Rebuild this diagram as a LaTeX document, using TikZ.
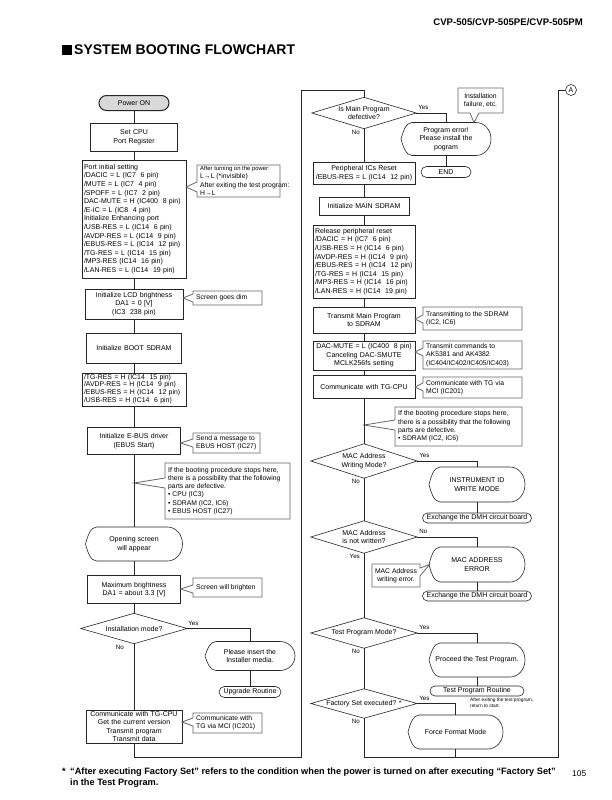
\documentclass[tikz,border=0pt]{standalone}
\usepackage{fontspec}
\setmainfont{Liberation Sans}
\usetikzlibrary{shapes.misc,calc}
\newcommand{\FsBox}{\fontsize{7}{8.6}\selectfont}
\newcommand{\FsCall}{\fontsize{6.8}{8.3}\selectfont}
\newcommand{\FsLab}{\fontsize{6.2}{7}\selectfont}
\tikzset{
  ln/.style={line width=0.55pt, draw=black!85},
  pbox/.style={draw=black!85, line width=0.6pt, rectangle, inner xsep=2pt, inner ysep=0pt, font=\FsBox},
  term/.style={draw=black!85, line width=0.6pt, rounded rectangle, inner xsep=1pt, inner ysep=0pt, font=\FsBox},
  txtnode/.style={inner sep=0pt, font=\FsBox, align=center},
  shp/.style={draw=black!85, line width=0.6pt},
  cl/.style={draw=black!60, line width=0.8pt},
  ctext/.style={inner xsep=2.5pt, inner ysep=0pt, font=\FsCall, align=left},
  lab/.style={font=\FsLab, inner sep=0pt},
}
\newcommand{\BoxN}[7]{%
  \pgfmathsetmacro\TmpW{#4-4}%
  \node[pbox, text width=\TmpW pt, minimum height=#5pt, align=#6] (#1) at (#2,#3) {#7};}
\newcommand{\DiaN}[6]{%
  \node[txtnode, minimum width=#4pt, minimum height=#5pt] (#1) at (#2,#3) {#6};
  \draw[shp] (#1.west) -- (#1.north) -- (#1.east) -- (#1.south) -- cycle;}
\newcommand{\TermN}[6]{%
  \node[term, minimum width=#4pt, minimum height=#5pt] (#1) at (#2,#3) {#6};}
\newcommand{\DispN}[6]{%
  \node[txtnode, minimum width=#4pt, minimum height=#5pt] (#1) at (#2,#3) {#6};
  \pgfmathsetmacro\Xl{#2-#4/2}\pgfmathsetmacro\Xr{#2+#4/2}%
  \pgfmathsetmacro\Yt{#3-#5/2}\pgfmathsetmacro\Yb{#3+#5/2}%
  \pgfmathsetmacro\Ry{#5/2}%
  \pgfmathsetmacro\Xa{\Xl+11}\pgfmathsetmacro\Xb{\Xr-15}%
  \draw[shp] (\Xa,\Yt) -- (\Xb,\Yt)
    .. controls ({\Xb+8.3},\Yt) and (\Xr,{#3-0.552*\Ry}) .. (\Xr,#3)
    .. controls (\Xr,{#3+0.552*\Ry}) and ({\Xb+8.3},\Yb) .. (\Xb,\Yb)
    -- (\Xa,\Yb)
    .. controls ({\Xa-6},\Yb) and ({\Xl+2},{#3+0.45*\Ry}) .. (\Xl,#3)
    .. controls ({\Xl+2},{#3-0.45*\Ry}) and ({\Xa-6},\Yt) .. (\Xa,\Yt) -- cycle;}
\newcommand{\CallL}[9]{%
  \node[ctext, anchor=west] (#1) at ({#2+0.5},{(#3+#5)/2}) {#9};
  \draw[cl] (#2,#3) -- (#4,#3) -- (#4,#5) -- (#2,#5) -- (#2,{#7+#8}) -- (#6,#7) -- (#2,{#7-#8}) -- cycle;}
\begin{document}
\begin{tikzpicture}[x=1pt,y=-1pt]
\fill[white] (0,0) rectangle (611,800);
\useasboundingbox (0,0) rectangle (611,800);
% header and title
\node[anchor=base east, inner sep=0pt, font=\fontsize{9.6}{11}\selectfont\bfseries] (hdr) at (583,26) {CVP-505/CVP-505PE/CVP-505PM};
\fill (62,45) rectangle (71.5,55);
\node[anchor=base west, inner sep=0pt, font=\fontsize{14}{16}\selectfont\bfseries] (title) at (74,55) {SYSTEM BOOTING FLOWCHART};
% ---------------- left column ----------------
\node[term, fill=gray!30, line width=1pt, minimum width=72pt, minimum height=15pt] (power) at (134,103) {Power ON};
\BoxN{setcpu}{134}{137}{87}{28}{center}{Set CPU\\Port Register}
\BoxN{portinit}{134}{219}{104}{118}{left}{Port initial setting\\/DACIC = L (IC7~~6 pin)\\/MUTE = L (IC7~~4 pin)\\/SPOFF = L (IC7~~2 pin)\\DAC-MUTE = H (IC400~~8 pin)\\/E-IC = L (IC8~~4 pin)\\Initialize Enhancing port\\/USB-RES = L (IC14~~6 pin)\\/AVDP-RES = L (IC14~~9 pin)\\/EBUS-RES = L (IC14~~12 pin)\\/TG-RES = L (IC14~~15 pin)\\/MP3-RES (IC14~~16 pin)\\/LAN-RES = L (IC14~~19 pin)}
\BoxN{lcd}{134}{304}{98}{30}{center}{Initialize LCD brightness\\DA1 = 0 [V]\\(IC3~~238 pin)}
\BoxN{bootsd}{134}{348}{95}{30}{center}{Initialize BOOT SDRAM}
\BoxN{tgres}{134}{389.5}{104}{33}{left}{\fontsize{6.9}{7.4}\selectfont /TG-RES = H (IC14~~15 pin)\\/AVDP-RES = H (IC14~~9 pin)\\/EBUS-RES = H (IC14~~12 pin)\\/USB-RES = H (IC14~~6 pin)}
\BoxN{ebus}{134}{441}{93}{27}{center}{Initialize E-BUS driver\\(EBUS Start)}
\DispN{opening}{134}{544}{97}{34}{Opening screen\\will appear}
\BoxN{maxb}{134}{589.5}{93}{28}{center}{Maximum brightness\\DA1 = about 3.3 [V]}
\DiaN{instmode}{134}{628.5}{106}{30}{Installation mode?}
\DispN{please}{250}{656}{90}{29}{Please insert the\\Installer media.}
\TermN{upgrade}{250}{692}{64}{11}{Upgrade Routine}
\BoxN{commtg}{134}{726.5}{96}{33}{center}{Communicate with TG-CPU\\Get the current version\\Transmit program\\Transmit data}
% left callouts
\CallL{c1}{197}{165}{280}{197}{186}{187}{5}{\fontsize{5.9}{7.2}\selectfont After turning on the power:\\L→L (*invisible)\\After exiting the test program:\\H→L}
\CallL{c2}{193}{291}{262}{305}{183}{298}{4}{Screen goes dim}
\CallL{c3}{193}{433}{260}{453}{180.5}{443}{4}{Send a message to\\EBUS HOST (IC27)}
\CallL{c4}{165}{463}{290}{519}{134}{483}{5}{\fontsize{7}{8.4}\selectfont If the booting procedure stops here,\\there is a possibility that the following\\parts are defective.\\• CPU (IC3)\\• SDRAM (IC2, IC6)\\• EBUS HOST (IC27)}
\CallL{c5}{193}{578}{262}{597}{180.5}{589}{4}{Screen will brighten}
\CallL{c6}{193}{713}{262}{733}{182}{722}{4}{Communicate with\\TG via MCI (IC201)}
% left connectors
\draw[ln] (power.south) -- (setcpu.north);
\draw[ln] (setcpu.south) -- (portinit.north);
\draw[ln] (portinit.south) -- (lcd.north);
\draw[ln] (lcd.south) -- (bootsd.north);
\draw[ln] (bootsd.south) -- (tgres.north);
\draw[ln] (tgres.south) -- (ebus.north);
\draw[ln] (ebus.south) -- (opening.north);
\draw[ln] (opening.south) -- (maxb.north);
\draw[ln] (maxb.south) -- (instmode.north);
\draw[ln] (instmode.east) -| (please.north);
\draw[ln] (please.south) -- (upgrade.north);
\draw[ln] (instmode.south) -- (commtg.north);
\node[lab, anchor=south west] (y1) at ($(instmode.east)+(1,-3)$) {Yes};
\node[lab, anchor=north east] (n1) at ($(instmode.south)+(-10,1)$) {No};
\coordinate (lb) at (134,757);
\coordinate (lr) at (301,757);
\coordinate (lt) at (301,90);
\coordinate (rt) at (364,90);
% ---------------- right column ----------------
\DiaN{mainprog}{364}{113}{104}{31}{Is Main Program\\defective?}
\draw[ln] (commtg.south) -- (lb) -- (lr) -- (lt) -- (rt) -- (mainprog.north);
\DispN{progerr}{446}{139}{90}{33}{Program error!\\Please install the\\pogram}
\TermN{endn}{446}{172}{52}{11}{END}
\node[ctext, align=center] (cinst) at (480.5,100.5) {Installation\\failure, etc.};
\draw[cl] (458,88) -- (503,88) -- (503,113) -- (479,113) -- (474,122.5) -- (470,113) -- (458,113) -- cycle;
\BoxN{periph}{364}{173}{102}{22}{center}{Peripheral ICs Reset\\/EBUS-RES = L (IC14~~12 pin)}
\BoxN{mainsd}{364}{206}{90}{18}{center}{Initialize MAIN SDRAM}
\BoxN{release}{364}{261.5}{102}{73}{left}{Release peripheral reset\\/DACIC = H (IC7~~6 pin)\\/USB-RES = H (IC14~~6 pin)\\/AVDP-RES = H (IC14~~9 pin)\\/EBUS-RES = H (IC14~~12 pin)\\/TG-RES = H (IC14~~15 pin)\\/MP3-RES = H (IC14~~16 pin)\\/LAN-RES = H (IC14~~19 pin)}
\BoxN{transmit}{364}{320}{102}{26}{center}{Transmit Main Program\\to SDRAM}
\BoxN{dacmute}{364}{355.5}{102}{29}{center}{DAC-MUTE = L (IC400~~8 pin)\\Canceling DAC-SMUTE\\MCLK256fs setting}
\BoxN{commtg2}{364}{386.5}{102}{23}{center}{Communicate with TG-CPU}
\CallL{c8}{423}{307}{522}{330}{415}{319}{4}{Transmitting to the SDRAM\\(IC2, IC6)}
\CallL{c9}{423}{341}{522}{369}{415}{352}{4}{Transmit commands to\\AK5381 and AK4382\\(IC404/IC402/IC405/IC403)}
\CallL{c10}{423}{377}{522}{398}{415}{387}{4}{Communicate with TG via\\MCI (IC201)}
\CallL{c11}{395}{407}{522}{446}{364}{425}{5}{\fontsize{7}{8.4}\selectfont If the booting procedure stops here,\\there is a possibility that the following\\parts are defective.\\• SDRAM (IC2, IC6)}
\DiaN{macwrite}{364}{461}{106}{34}{MAC Address\\Writing Mode?}
\DispN{instid}{477}{484.5}{96}{35}{INSTRUMENT ID\\WRITE MODE}
\TermN{exch1}{477}{518}{111}{10}{Exchange the DMH circuit board}
\DiaN{macnot}{364}{537}{106}{32}{MAC Address\\is not written?}
\DispN{macerr}{477}{564.5}{96}{35}{MAC ADDRESS\\ERROR}
\TermN{exch2}{477}{596}{111}{10}{Exchange the DMH circuit board}
\node[ctext, align=center] (cmac) at (396,575.5) {MAC Address\\writing error.};
\draw[cl] (372,564) -- (420,564) -- (420,568) -- (429.5,564.5) -- (420,576) -- (420,587) -- (372,587) -- cycle;
\DiaN{testmode}{364}{633}{106}{30}{Test Program Mode?}
\DispN{proceed}{477}{660}{96}{34}{Proceed the Test Program.}
\TermN{tprout}{477}{691}{96}{10}{Test Program Routine}
\node[anchor=north west, inner sep=0pt, align=left, font=\fontsize{4.8}{6.4}\selectfont] (note) at (470,697.5) {After exiting the test program,\\return to start.};
\DiaN{factory}{364}{703.5}{106}{29}{Factory Set executed? *}
\DispN{force}{455.5}{732}{95}{34}{Force Format Mode}
\coordinate (rb) at (364,757);
\coordinate (rr) at (558,757);
\coordinate (rtop) at (558,90);
\node[draw=black!85, line width=0.6pt, circle, inner sep=0pt, minimum size=11pt, font=\fontsize{7}{8}\selectfont] (acirc) at (571,90) {A};
% right connectors
\draw[ln] (mainprog.east) -| (progerr.north);
\draw[ln] (progerr.south) -- (endn.north);
\draw[ln] (mainprog.south) -- (periph.north);
\draw[ln] (periph.south) -- (mainsd.north);
\draw[ln] (mainsd.south) -- (release.north);
\draw[ln] (release.south) -- (transmit.north);
\draw[ln] (transmit.south) -- (dacmute.north);
\draw[ln] (dacmute.south) -- (commtg2.north);
\draw[ln] (commtg2.south) -- (macwrite.north);
\draw[ln] (macwrite.east) -| (instid.north);
\draw[ln] (instid.south) -- (exch1.north);
\draw[ln] (macwrite.south) -- (macnot.north);
\draw[ln] (macnot.east) -| (macerr.north);
\draw[ln] (macerr.south) -- (exch2.north);
\draw[ln] (macnot.south) -- (testmode.north);
\draw[ln] (testmode.east) -| (proceed.north);
\draw[ln] (proceed.south) -- (tprout.north);
\draw[ln] (testmode.south) -- (factory.north);
\draw[ln] (factory.east) -| (force.north);
\draw[ln] (factory.south) -- (rb) -- (rr) -- (rtop) -- (acirc.west);
\draw[ln] (force.south) -- (force.south |- rb);
% labels
\node[lab, anchor=south west] (y2) at ($(mainprog.east)+(2,-3)$) {Yes};
\node[lab, anchor=north east] (n2) at ($(mainprog.south)+(-4,1)$) {No};
\node[lab, anchor=south west] (y3) at ($(macwrite.east)+(2,-3)$) {Yes};
\node[lab, anchor=north east] (n3) at ($(macwrite.south)+(-4,1)$) {No};
\node[lab, anchor=south west] (n4) at ($(macnot.east)+(2,-3)$) {No};
\node[lab, anchor=north east] (y4) at ($(macnot.south)+(-4,1)$) {Yes};
\node[lab, anchor=south west] (y5) at ($(testmode.east)+(2,-3)$) {Yes};
\node[lab, anchor=north east] (n5) at ($(testmode.south)+(-4,1)$) {No};
\node[lab, anchor=south west] (y6) at ($(factory.east)+(2,-3)$) {Yes};
\node[lab, anchor=north east] (n6) at ($(factory.south)+(-4,1)$) {No};
% footnote
\node[anchor=base west, inner sep=0pt, font=\fontsize{9.2}{10}\selectfont\bfseries] (star) at (62,774) {*};
\node[anchor=base west, inner sep=0pt, font=\fontsize{9.2}{10}\selectfont\bfseries] (fn1) at (70,774) {“After executing Factory Set” refers to the condition when the power is turned on after executing “Factory Set”};
\node[anchor=base west, inner sep=0pt, font=\fontsize{9.2}{10}\selectfont\bfseries] (fn2) at (70,785) {in the Test Program.};
\node[anchor=base west, inner sep=0pt, font=\fontsize{8.4}{10}\selectfont] (pg) at (572,776) {105};
\end{tikzpicture}
\end{document}
